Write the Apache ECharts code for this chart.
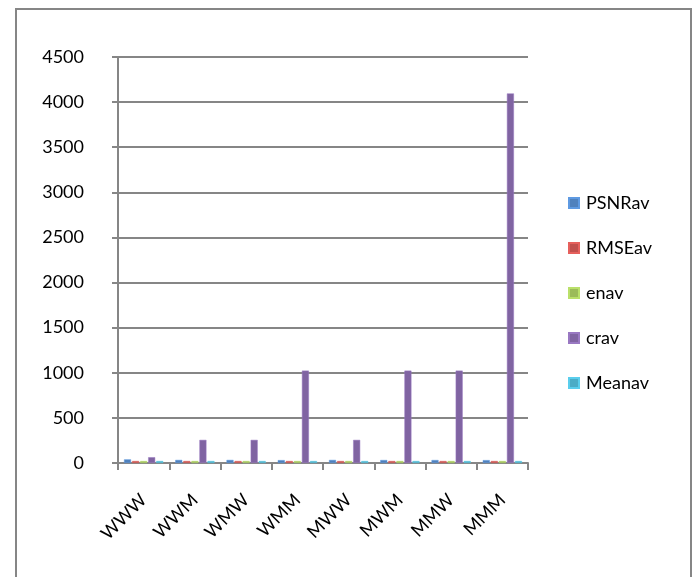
<!DOCTYPE html>
<html>
<head>
<meta charset="utf-8">
<script src="https://cdn.jsdelivr.net/npm/echarts@6/dist/echarts.min.js"></script>
<style>
  html, body { margin: 0; padding: 0; background: #ffffff; }
  #chart { width: 696px; height: 577px; }
</style>
</head>
<body>
<div id="chart"></div>
<script>
const categories = ['WWW', 'WWM', 'WMW', 'WMM', 'MWW', 'MWM', 'MMW', 'MMM']
const psnrav = [40, 34, 34, 32, 34, 33, 33, 32]
const rmseav = [4, 5, 5, 6, 5, 6, 6, 7]
const enav = [7, 7, 7, 7, 7, 7, 7, 7]
const crav = [64, 256, 256, 1024, 256, 1024, 1024, 4096]
const meanav = [1, 1, 1, 1, 1, 1, 1, 1]
const yTicks = [0, 500, 1000, 1500, 2000, 2500, 3000, 3500, 4000, 4500]

const font = 'Lato, "Open Sans", sans-serif'
const axisGray = '#868686'

const chart = echarts.init(document.getElementById('chart'))

function bar(name, data, color) {
  return {
    name,
    type: 'bar',
    data,
    barWidth: 7,
    barGap: '15%',
    barMinHeight: 2,
    itemStyle: { color, borderColor: echarts.color.lift(color, -0.2), borderWidth: 0.5 },
  }
}

chart.setOption({
  backgroundColor: '#ffffff',
  animation: false,
  graphic: [
    {
      type: 'rect',
      shape: { x: 16, y: 9, width: 675, height: 620 },
      style: { fill: 'none', stroke: axisGray, lineWidth: 2 },
      silent: true,
    },
  ],
  grid: { left: 118, right: 168, top: 57, bottom: 114 },
  legend: {
    orient: 'vertical',
    left: 568,
    top: 194,
    padding: 0,
    itemWidth: 10,
    itemHeight: 10,
    itemGap: 27,
    icon: 'rect',
    textStyle: { fontFamily: font, fontSize: 18, color: '#000', padding: [0, 0, 0, 2] },
    data: ['PSNRav', 'RMSEav', 'enav', 'crav', 'Meanav'],
  },
  xAxis: {
    type: 'category',
    data: categories,
    axisLine: { lineStyle: { color: axisGray, width: 2 } },
    axisTick: { show: true, length: 7, lineStyle: { color: axisGray, width: 2 } },
    axisLabel: {
      rotate: 45,
      margin: 34,
      interval: 0,
      fontFamily: font,
      fontSize: 18,
      color: '#000',
    },
  },
  yAxis: {
    type: 'value',
    min: yTicks[0],
    max: yTicks[yTicks.length - 1],
    interval: 500,
    axisLine: { show: true, lineStyle: { color: axisGray, width: 2 } },
    axisTick: { show: true, length: 6, lineStyle: { color: axisGray, width: 2 } },
    axisLabel: {
      margin: 34,
      fontFamily: font,
      fontSize: 18,
      color: '#000',
      formatter: (v) => String(v),
    },
    splitLine: { lineStyle: { color: axisGray, width: 2 } },
  },
  series: [
    bar('PSNRav', psnrav, '#4F81BD'),
    bar('RMSEav', rmseav, '#C0504D'),
    bar('enav', enav, '#9BBB59'),
    bar('crav', crav, '#8064A2'),
    bar('Meanav', meanav, '#4BACC6'),
  ],
})
</script>
</body>
</html>
